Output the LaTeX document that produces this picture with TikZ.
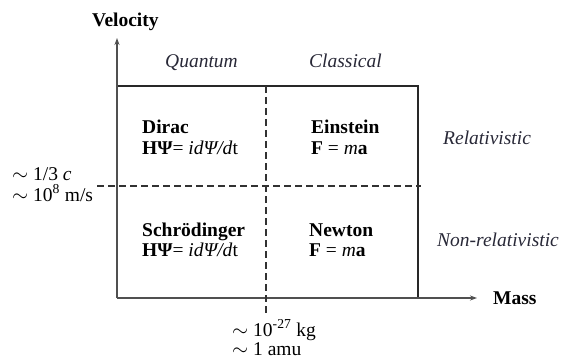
\documentclass[tikz,border=0pt]{standalone}
\usepackage{fontspec}
\setmainfont{Liberation Serif}
\usetikzlibrary{arrows.meta}
\begin{document}
\begin{tikzpicture}[x=1pt,y=-1pt,
  lbl/.style={anchor=base west,inner sep=0pt,font=\fontsize{19.5}{20}\selectfont,text=black},
  ital/.style={lbl,font=\fontsize{19.5}{20}\selectfont\itshape,text={rgb,255:red,40;green,40;blue,55}},
  axisline/.style={draw={rgb,255:red,80;green,80;blue,80},line width=1.3pt},
  boxline/.style={draw={rgb,255:red,40;green,40;blue,40},line width=1.1pt},
  dashline/.style={draw={rgb,255:red,50;green,50;blue,50},line width=1.1pt,dash pattern=on 7pt off 4pt},
  tip/.style={-{Stealth[length=7pt,width=5pt]}}]
\useasboundingbox (0,0) rectangle (563,361);
% coordinates
\coordinate (O) at (117,298);
\coordinate (Vend) at (117,38);
\coordinate (Mend) at (477,298);
\coordinate (TL) at (117,86);
\coordinate (TR) at (418,86);
\coordinate (BR) at (418,298);
\coordinate (DVt) at (266,86);
\coordinate (DVb) at (266,313);
\coordinate (DHl) at (97,186);
\coordinate (DHr) at (421,186);
% lines
\draw[boxline] (TL) -- (TR) -- (BR);
\draw[axisline,tip] (O) -- (Vend);
\draw[axisline,tip] (O) -- (Mend);
\draw[dashline] (DVt) -- (DVb);
\draw[dashline] (DHl) -- (DHr);
% labels
\node[lbl,font=\fontsize{19.5}{20}\selectfont\bfseries] (vel) at (92,27) {Velocity};
\node[lbl,font=\fontsize{19.5}{20}\selectfont\bfseries] (mass) at (493,304) {Mass};
\node[ital] (quant) at (165,68) {Quantum};
\node[ital] (class) at (309,68) {Classical};
\node[ital] (rel) at (443,145) {Relativistic};
\node[ital] (nonrel) at (437,246) {Non-relativistic};
\node[lbl] (dirac) at (142,133) {\textbf{Dirac}};
\node[lbl] (diraceq) at (142,154) {\textbf{HΨ}= \textit{idΨ/d}t};
\node[lbl] (ein) at (311,133) {\textbf{Einstein}};
\node[lbl] (eineq) at (311,154) {\textbf{F} = \textit{m}\textbf{a}};
\node[lbl] (sch) at (142,236) {\textbf{Schrödinger}};
\node[lbl] (scheq) at (142,256) {\textbf{HΨ}= \textit{idΨ/d}t};
\node[lbl] (new) at (309,236) {\textbf{Newton}};
\node[lbl] (neweq) at (309,256) {\textbf{F} = \textit{m}\textbf{a}};
\node[lbl,text depth=0pt] (vc) at (12,180) {$\sim$ 1/3 \textit{c}};
\node[lbl,text height=12pt] (vms) at (12,201) {$\sim$ 10\textsuperscript{8} m/s};
\node[lbl,text depth=0pt] (kg) at (232,336) {$\sim$ 10\textsuperscript{-27} kg};
\node[lbl,text height=12pt] (amu) at (232,355) {$\sim$ 1 amu};
\end{tikzpicture}
\end{document}
